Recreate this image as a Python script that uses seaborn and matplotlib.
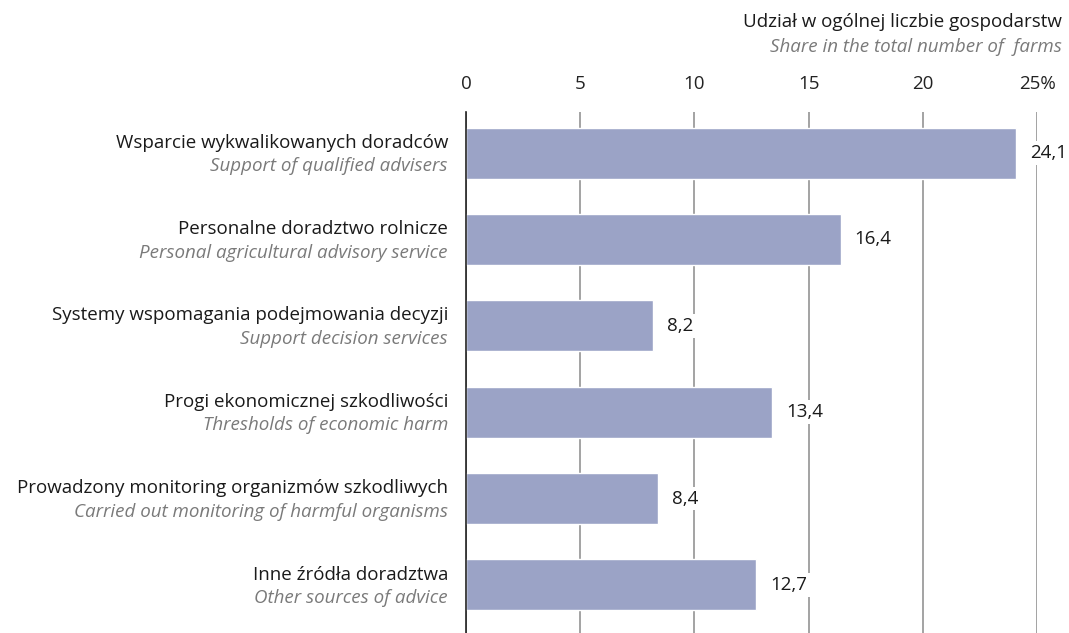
import pandas as pd
import matplotlib.pyplot as plt
import seaborn as sns

# Categories (Polish / English) and shares in %
labels_pl = [
    'Wsparcie wykwalikowanych doradców',
    'Personalne doradztwo rolnicze',
    'Systemy wspomagania podejmowania decyzji',
    'Progi ekonomicznej szkodliwości',
    'Prowadzony monitoring organizmów szkodliwych',
    'Inne źródła doradztwa',
]
labels_en = [
    'Support of qualified advisers',
    'Personal agricultural advisory service',
    'Support decision services',
    'Thresholds of economic harm',
    'Carried out monitoring of harmful organisms',
    'Other sources of advice',
]
shares = [24.1, 16.4, 8.2, 13.4, 8.4, 12.7]
tick_values = [0, 5, 10, 15, 20, 25]
tick_labels = ['0', '5', '10', '15', '20', '25%']

BAR_COLOR = '#9ba3c6'
GRID_COLOR = '#8a8a8a'
FS = 13.5

sns.set_theme(style="white")
plt.rcParams['font.family'] = ['Open Sans', 'DejaVu Sans']

df = pd.DataFrame({'cat': labels_pl, 'share': shares})

fig = plt.figure(figsize=(10.69, 6.33), dpi=100)
ax = fig.add_axes([466 / 1069, 0, (1037 - 466) / 1069, 1 - 112 / 633])

sns.barplot(data=df, x='share', y='cat', color=BAR_COLOR, width=0.59,
            saturation=1, ax=ax, zorder=2)

ax.set_xlim(0, 25)
ax.set_ylim(5.556, -0.475)

# axis decoration
for s in ['top', 'right', 'bottom']:
    ax.spines[s].set_visible(False)
ax.spines['left'].set_color('#222222')
ax.spines['left'].set_linewidth(1.2)
ax.xaxis.tick_top()
ax.set_xticks(tick_values)
ax.set_xticklabels(tick_labels, fontsize=FS, color='#222222')
ax.tick_params(axis='x', length=0, pad=14)
ax.set_yticks([])
ax.set_xlabel('')
ax.set_ylabel('')
ax.grid(axis='x', color=GRID_COLOR, linewidth=1.1, zorder=0)
ax.set_axisbelow(True)

# category labels, two lines
for i, (pl, en) in enumerate(zip(labels_pl, labels_en)):
    ax.annotate(pl, xy=(0, i), xycoords=('axes fraction', 'data'),
                xytext=(-13, 7.5), textcoords='offset points',
                ha='right', va='center', fontsize=FS, color='#1a1a1a')
    ax.annotate(en, xy=(0, i), xycoords=('axes fraction', 'data'),
                xytext=(-13, -9.5), textcoords='offset points',
                ha='right', va='center', fontsize=FS, color='#7a7a7a',
                style='italic')

# value labels
for i, v in enumerate(shares):
    ax.annotate(f'{v:.1f}'.replace('.', ','), xy=(v, i),
                xytext=(10, 0), textcoords='offset points',
                ha='left', va='center', fontsize=FS, color='#1a1a1a',
                bbox=dict(boxstyle='square,pad=0.15', fc='white', ec='none'),
                zorder=5)

# axis title top right
fig.text(1062 / 1069, 1 - 22 / 633, 'Udział w ogólnej liczbie gospodarstw',
         ha='right', va='center', fontsize=FS, color='#1a1a1a')
fig.text(1062 / 1069, 1 - 47 / 633, 'Share in the total number of  farms',
         ha='right', va='center', fontsize=FS, color='#7a7a7a', style='italic')

fig.savefig('out.png', dpi=100)
